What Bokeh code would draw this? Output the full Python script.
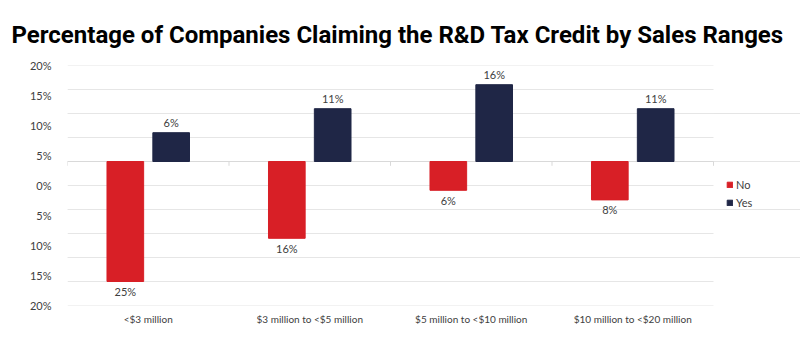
from bokeh.plotting import figure
from bokeh.models import (Range1d, LinearAxis, FixedTicker, CustomJSTickFormatter,
                          ColumnDataSource, LabelSet, Legend, LegendItem)
from bokeh.core.properties import value
from bokeh.embed import file_html
from bokeh.resources import INLINE

categories = ["<$3 million", "$3 million to <$5 million", "$5 million to <$10 million", "$10 million to <$20 million"]
no_values = [25, 16, 6, 8]
yes_values = [6, 11, 16, 11]
grid_ticks = [-30, -25, -20, -15, -10, -5, 0, 5, 10, 15, 20]
label_ticks = [-20, -15, -10, -5, 0, 5, 10, 15, 20]

RED = "#d81f26"
NAVY = "#1f2646"
OFFSET = 0.142
BAR_W = 0.227

n = len(categories)
centers = [i + 0.5 for i in range(n)]

src = ColumnDataSource(dict(
    x_no=[c - OFFSET for c in centers],
    x_yes=[c + OFFSET for c in centers],
    no=[-v for v in no_values],
    yes=yes_values,
    no_txt=[f"{v}%" for v in no_values],
    yes_txt=[f"{v}%" for v in yes_values],
))

# plot area: categories fill 646 px, extra room on the right holds the legend
x_end = n * 733.0 / 646.0
p = figure(width=800, height=342, x_range=Range1d(0, x_end),
           y_range=Range1d(-30, 20), output_backend="svg", toolbar_location=None,
           y_axis_location=None, min_border_left=67, min_border_right=0,
           min_border_top=65, min_border_bottom=37)
p.outline_line_color = None
p.xgrid.grid_line_color = None

p.title.text = "Percentage of Companies Claiming the R&D Tax Credit by Sales Ranges"
p.title.align = "left"
p.title.offset = -56
p.title.text_font = "Roboto"
p.title.text_font_size = "24px"
p.title.text_font_style = "bold"
p.title.text_color = "#000000"
p.title.standoff = 34

# horizontal gridlines spanning the category area
p.segment(x0=[0] * len(grid_ticks), x1=[n] * len(grid_ticks), y0=grid_ticks, y1=grid_ticks,
          line_color="#e6e6e6", line_width=1)
p.segment(x0=[0], x1=[n], y0=[0], y1=[0], line_color="#d9d9d9", line_width=1)
bounds = list(range(n + 1))
p.segment(x0=bounds, x1=bounds, y0=[0] * len(bounds), y1=[-0.9] * len(bounds),
          line_color="#d9d9d9", line_width=1)

p.extra_y_ranges = {"lab": Range1d(-20, 20)}
yax = LinearAxis(y_range_name="lab", ticker=FixedTicker(ticks=label_ticks),
                 formatter=CustomJSTickFormatter(code="return Math.abs(tick) + '%';"))
yax.axis_line_color = None
yax.major_tick_line_color = None
yax.minor_tick_line_color = None
yax.major_tick_out = 0
yax.major_label_text_font = "Lato"
yax.major_label_text_font_size = "11px"
yax.major_label_text_color = "#404040"
yax.major_label_standoff = 16
p.add_layout(yax, "left")

xa = p.xaxis[0]
xa.ticker = FixedTicker(ticks=centers)
xa.major_label_overrides = {c: lab for c, lab in zip(centers, categories)}
xa.axis_line_color = None
xa.major_tick_line_color = None
xa.minor_tick_line_color = None
xa.major_tick_out = 0
xa.major_label_text_font = "Lato"
xa.major_label_text_font_size = "10px"
xa.major_label_text_color = "#404040"
xa.major_label_standoff = 7

r_no = p.vbar(x="x_no", top="no", bottom=0, width=BAR_W,
              source=src, fill_color=RED, line_color=RED)
r_yes = p.vbar(x="x_yes", top="yes", bottom=0, width=BAR_W,
               source=src, fill_color=NAVY, line_color=NAVY)

lab_no = LabelSet(x="x_no", y="no", text="no_txt", source=src,
                  text_align="center", text_baseline="middle", y_offset=-10,
                  text_font=value("Lato"), text_font_size=value("11px"), text_color="#404040")
lab_yes = LabelSet(x="x_yes", y="yes", text="yes_txt", source=src,
                   text_align="center", text_baseline="middle", y_offset=10,
                   text_font=value("Lato"), text_font_size=value("11px"), text_color="#404040")
p.add_layout(lab_no)
p.add_layout(lab_yes)

legend = Legend(items=[LegendItem(label="No", renderers=[r_no]),
                       LegendItem(label="Yes", renderers=[r_yes])],
                location=(659, 96))
legend.border_line_color = None
legend.background_fill_alpha = 0
legend.label_text_font = "Lato"
legend.label_text_font_size = "11px"
legend.label_text_color = "#404040"
legend.glyph_width = 7
legend.glyph_height = 7
legend.label_standoff = 3
legend.spacing = 5
legend.padding = 0
legend.margin = 0
legend.label_height = 12
p.add_layout(legend)

open("out.html", "w").write(file_html(p, INLINE))
